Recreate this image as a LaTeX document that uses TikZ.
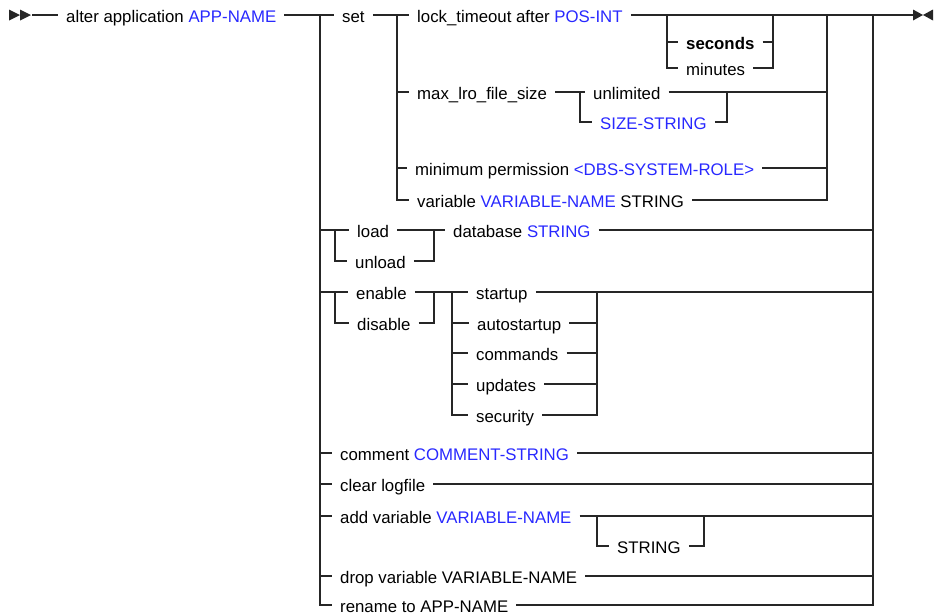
\documentclass[tikz,border=0pt]{standalone}
\usepackage{fontspec}
\setmainfont{Liberation Sans}
\usepackage{xcolor}
\definecolor{idblue}{RGB}{40,40,255}
\newcommand{\ident}[1]{\textcolor{idblue}{#1}}
\tikzstyle{word} = [anchor=west, inner xsep=8pt, inner ysep=0pt,
    text height=14pt, text depth=0pt]
\tikzstyle{rail} = [line width=1.1pt, draw=black!85]
\tikzstyle{tip} = [fill=black!85]

\begin{document}
\begin{tikzpicture}[x=1pt, y=-1pt, font=\fontsize{16.8}{20}\selectfont]
\useasboundingbox (0,0) rectangle (935,616);

            % Junctions
            \coordinate (begin) at (32,15);
            \coordinate (stop) at (913,15);
            \coordinate (mainL) at (320,15);
            \coordinate (mainR) at (873,15);
            \coordinate (setL) at (397,15);
            \coordinate (setR) at (827,15);
            \coordinate (unitL) at (667,15);
            \coordinate (unitR) at (773,15);
            \coordinate (sizeL) at (580,92);
            \coordinate (sizeR) at (727,92);
            \coordinate (ldL) at (335,230);
            \coordinate (ldR) at (434,230);
            \coordinate (enL) at (335,292);
            \coordinate (enR) at (434,292);
            \coordinate (featL) at (452,292);
            \coordinate (featR) at (597,292);
            \coordinate (strL) at (597,516);
            \coordinate (strR) at (704,516);

            % Blocks
            \node (alter) [word] at (58,15) {alter application \ident{APP-NAME}};
            \node (set) [word] at (334,15) {set};
            \node (lock) [word] at (409,15) {lock\_timeout after \ident{POS-INT}};
            \node (seconds) [word] at (678,42) {\textbf{seconds}};
            \node (minutes) [word] at (678,68) {minutes};
            \node (maxlro) [word] at (409,92) {max\_lro\_file\_size};
            \node (unlimited) [word] at (585,92) {unlimited};
            \node (sizestr) [word] at (592,122) {\ident{SIZE-STRING}};
            \node (minperm) [word] at (407,168) {minimum permission \ident{<DBS-SYSTEM-ROLE>}};
            \node (variable) [word] at (409,200) {variable \ident{VARIABLE-NAME} STRING};
            \node (load) [word] at (349,230) {load};
            \node (unload) [word] at (347,261) {unload};
            \node (database) [word] at (445,230) {database \ident{STRING}};
            \node (enable) [word] at (348,292) {enable};
            \node (disable) [word] at (349,323) {disable};
            \node (startup) [word] at (468,292) {startup};
            \node (autostartup) [word] at (469,323) {autostartup};
            \node (commands) [word] at (468,353) {commands};
            \node (updates) [word] at (468,384) {updates};
            \node (security) [word] at (468,415) {security};
            \node (comment) [word] at (332,453) {comment \ident{COMMENT-STRING}};
            \node (clearlog) [word] at (332,484) {clear logfile};
            \node (addvar) [word] at (332,516) {add variable \ident{VARIABLE-NAME}};
            \node (string) [word] at (609,546) {STRING};
            \node (dropvar) [word] at (332,576) {drop variable VARIABLE-NAME};
            \node (rename) [word] at (332,605) {rename to APP-NAME};

            % Start and end marks
            \fill [tip] (9,9.5) -- (9,20.5) -- (20,15) -- cycle;
            \fill [tip] (20,9.5) -- (20,20.5) -- (31,15) -- cycle;
            \fill [tip] (913,9.5) -- (913,20.5) -- (923,15) -- cycle;
            \fill [tip] (933,9.5) -- (933,20.5) -- (923,15) -- cycle;

            % Main line
            \draw [rail] (begin) -- (alter.west);
            \draw [rail] (alter.east) -- (set.west);
            \draw [rail] (set.east) -- (lock.west);
            \draw [rail] (lock.east) -- (stop);
            \draw [rail] (mainL) |- (rename.west);
            \draw [rail] (mainR) |- (rename.east);

            % set branch
            \draw [rail] (unitL |- seconds.west) -- (seconds.west);
            \draw [rail] (unitL) |- (minutes.west);
            \draw [rail] (seconds.east) -- (unitR |- seconds.east);
            \draw [rail] (minutes.east) -| (unitR);
            \draw [rail] (setL) |- (variable.west);
            \draw [rail] (setL |- maxlro.west) -- (maxlro.west);
            \draw [rail] (setL |- minperm.west) -- (minperm.west);
            \draw [rail] (maxlro.east) -- (unlimited.west);
            \draw [rail] (sizeL) |- (sizestr.west);
            \draw [rail] (sizestr.east) -| (sizeR);
            \draw [rail] (unlimited.east) -- (setR |- unlimited.east);
            \draw [rail] (minperm.east) -- (setR |- minperm.east);
            \draw [rail] (variable.east) -| (setR);

            % load / unload
            \draw [rail] (mainL |- load.west) -- (load.west);
            \draw [rail] (ldL) |- (unload.west);
            \draw [rail] (load.east) -- (database.west);
            \draw [rail] (unload.east) -| (ldR);
            \draw [rail] (database.east) -- (mainR |- database.east);

            % enable / disable
            \draw [rail] (mainL |- enable.west) -- (enable.west);
            \draw [rail] (enL) |- (disable.west);
            \draw [rail] (enable.east) -- (startup.west);
            \draw [rail] (disable.east) -| (enR);
            \draw [rail] (featL) |- (security.west);
            \draw [rail] (featL |- autostartup.west) -- (autostartup.west);
            \draw [rail] (featL |- commands.west) -- (commands.west);
            \draw [rail] (featL |- updates.west) -- (updates.west);
            \draw [rail] (startup.east) -- (mainR |- startup.east);
            \draw [rail] (autostartup.east) -- (featR |- autostartup.east);
            \draw [rail] (commands.east) -- (featR |- commands.east);
            \draw [rail] (updates.east) -- (featR |- updates.east);
            \draw [rail] (security.east) -| (featR);

            % single rows
            \draw [rail] (mainL |- comment.west) -- (comment.west);
            \draw [rail] (comment.east) -- (mainR |- comment.east);
            \draw [rail] (mainL |- clearlog.west) -- (clearlog.west);
            \draw [rail] (clearlog.east) -- (mainR |- clearlog.east);
            \draw [rail] (mainL |- addvar.west) -- (addvar.west);
            \draw [rail] (addvar.east) -- (mainR |- addvar.east);
            \draw [rail] (strL) |- (string.west);
            \draw [rail] (string.east) -| (strR);
            \draw [rail] (mainL |- dropvar.west) -- (dropvar.west);
            \draw [rail] (dropvar.east) -- (mainR |- dropvar.east);

        \end{tikzpicture}
\end{document}
